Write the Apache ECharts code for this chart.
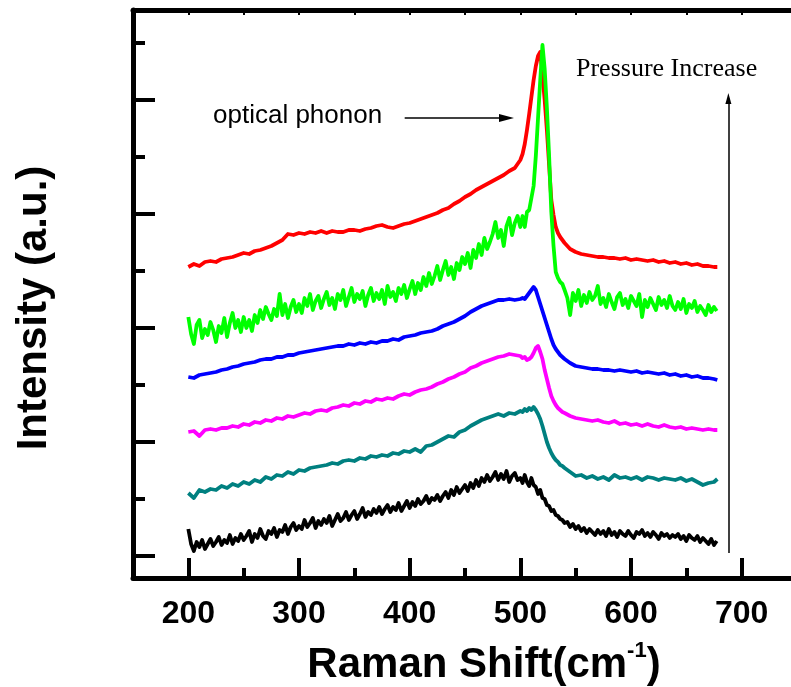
<!DOCTYPE html>
<html>
<head>
<meta charset="utf-8">
<script src="https://cdn.jsdelivr.net/npm/echarts@6/dist/echarts.min.js"></script>
<style>
  html, body { margin: 0; padding: 0; background: #fff; }
  #chart { width: 791px; height: 687px; }
</style>
</head>
<body>
<div id="chart"></div>
<script>
// Raman shift sampling (cm^-1) for the smoother spectra
const ramanShift = [
  200, 205, 210, 215, 220, 225, 230, 235, 240, 245,
  250, 255, 260, 265, 270, 275, 280, 285, 290, 295,
  300, 305, 310, 315, 320, 325, 330, 335, 340, 345,
  350, 355, 360, 365, 370, 375, 380, 385, 390, 395,
  400, 405, 410, 415, 420, 425, 430, 435, 440, 445,
  450, 455, 460, 465, 470, 475, 480, 485, 490, 495,
  500,
  502, 504, 506, 508, 510, 512, 514, 516, 518, 520,
  522, 524, 526, 528, 530, 532, 534, 536, 538, 540,
  545, 550, 555, 560, 565, 570, 575, 580, 585, 590,
  595, 600, 605, 610, 615, 620, 625, 630, 635, 640,
  645, 650, 655, 660, 665, 670, 675, 678
];

// Finer Raman shift sampling (cm^-1) for the two noisiest spectra
const fineShift = [
  200, 202.5, 205, 207.5, 210, 212.5, 215, 217.5, 220, 222.5,
  225, 227.5, 230, 232.5, 235, 237.5, 240, 242.5, 245, 247.5,
  250, 252.5, 255, 257.5, 260, 262.5, 265, 267.5, 270, 272.5,
  275, 277.5, 280, 282.5, 285, 287.5, 290, 292.5, 295, 297.5,
  300, 302.5, 305, 307.5, 310, 312.5, 315, 317.5, 320, 322.5,
  325, 327.5, 330, 332.5, 335, 337.5, 340, 342.5, 345, 347.5,
  350, 352.5, 355, 357.5, 360, 362.5, 365, 367.5, 370, 372.5,
  375, 377.5, 380, 382.5, 385, 387.5, 390, 392.5, 395, 397.5,
  400, 402.5, 405, 407.5, 410, 412.5, 415, 417.5, 420, 422.5,
  425, 427.5, 430, 432.5, 435, 437.5, 440, 442.5, 445, 447.5,
  450, 452.5, 455, 457.5, 460, 462.5, 465, 467.5, 470, 472.5,
  475, 477.5, 480, 482.5, 485, 487.5, 490, 492.5, 495, 497.5,
  500,
  502, 504, 506, 508, 510, 512, 514, 516, 518, 520,
  522, 524, 526, 528, 530, 532, 534, 536, 538, 540,
  542.5, 545, 547.5, 550, 552.5, 555, 557.5, 560, 562.5, 565,
  567.5, 570, 572.5, 575, 577.5, 580, 582.5, 585, 587.5, 590,
  592.5, 595, 597.5, 600, 602.5, 605, 607.5, 610, 612.5, 615,
  617.5, 620, 622.5, 625, 627.5, 630, 632.5, 635, 637.5, 640,
  642.5, 645, 647.5, 650, 652.5, 655, 657.5, 660, 662.5, 665,
  667.5, 670, 672.5, 675, 677.5
];

// Offset intensities (a.u.), lowest pressure first
const blackSpectrum = [
  27, 12, 5, 14, 9, 16, 7, 12, 17, 10,
  14, 19, 11, 16, 13, 21, 12, 18, 15, 22,
  16, 20, 25, 14, 22, 18, 27, 20, 17, 25,
  22, 28, 19, 26, 24, 31, 22, 29, 33, 26,
  30, 27, 36, 29, 33, 38, 28, 35, 31, 37,
  33, 40, 30, 36, 42, 35, 38, 44, 36, 41,
  45, 37, 42, 48, 39, 44, 41, 47, 43, 49,
  42, 47, 51, 44, 49, 46, 53, 45, 50, 55,
  48, 54, 50, 57, 52, 55, 60, 53, 58, 56,
  61, 55, 60, 64, 58, 66, 61, 69, 63, 67,
  71, 65, 73, 68, 76, 70, 78, 74, 81, 75,
  79, 84, 76, 82, 77, 85, 74, 80, 83, 76,
  78,
  73, 81, 74, 70, 78, 71, 69, 62, 66, 58,
  57, 51, 50, 45, 46, 41, 40, 37, 36, 33,
  34, 29, 32, 27, 30, 25, 28, 23, 27, 24,
  21, 26, 22, 25, 20, 27, 21, 24, 19, 25,
  22, 20, 25, 21, 18, 24, 22, 26, 20, 23,
  19, 24, 21, 17, 23, 20, 22, 18, 21, 19,
  22, 17, 20, 15, 21, 18, 16, 20, 14, 18,
  15, 12, 17, 11, 15
];
const tealSpectrum = [
  63, 58, 66, 64, 67, 66, 70, 68, 72, 70,
  74, 72, 76, 74, 79, 77, 81, 80, 84, 82,
  86, 85, 88, 89, 90, 91, 93, 92, 95, 96,
  95, 98, 97, 100, 99, 101, 100, 103, 102, 105,
  104, 107, 104, 110, 111, 114, 117, 120, 119, 124,
  126, 130, 133, 136, 138, 140, 142, 140, 143, 142,
  145,
  144, 147, 145, 148, 146, 149, 146, 142, 137, 130,
  122, 114, 108, 103, 99, 96, 94, 91, 90, 88,
  84, 80, 81, 78, 80, 77, 79, 76, 81, 78,
  79, 77, 79, 76, 79, 78, 76, 78, 77, 76,
  78, 75, 77, 74, 71, 73, 74, 77
];
const magentaSpectrum = [
  124, 125, 120, 126, 127, 126, 128, 128, 130, 129,
  132, 131, 134, 133, 136, 135, 138, 137, 140, 139,
  141, 143, 142, 145, 146, 145, 148, 149, 151, 150,
  153, 152, 155, 154, 157, 156, 158, 157, 160, 162,
  161, 164, 166, 167, 169, 172, 174, 177, 179, 182,
  184, 188, 190, 193, 195, 197, 199, 200, 202, 201,
  200,
  198, 199, 196, 197, 199, 203, 208, 210, 204, 197,
  186, 177, 168, 160, 155, 151, 148, 146, 144, 143,
  140, 138, 137, 136, 135, 136, 134, 133, 135, 132,
  133, 131, 132, 130, 132, 130, 129, 131, 129, 128,
  129, 127, 128, 127, 126, 127, 126, 126
];
const blueSpectrum = [
  179, 178, 181, 182, 183, 184, 186, 187, 189, 190,
  192, 193, 194, 196, 197, 197, 199, 199, 201, 201,
  203, 204, 205, 206, 207, 208, 209, 210, 210, 212,
  211, 213, 212, 214, 213, 215, 215, 217, 216, 219,
  220, 221, 223, 224, 225, 227, 230, 232, 234, 237,
  240, 244, 247, 250, 252, 254, 256, 256, 257, 256,
  257,
  258, 257, 260, 263, 266, 269, 266, 259, 252, 245,
  238, 231, 224, 217, 211, 207, 204, 201, 199, 197,
  193, 190, 189, 188, 187, 187, 186, 186, 185, 186,
  185, 184, 185, 183, 184, 183, 182, 183, 181, 182,
  180, 181, 179, 180, 178, 178, 177, 176
];
const greenSpectrum = [
  239, 222, 212, 231, 236, 218, 227, 221, 234, 226,
  214, 230, 223, 238, 219, 233, 243, 228, 236, 224,
  239, 228, 236, 225, 241, 233, 246, 237, 249, 242,
  236, 247, 240, 262, 241, 252, 238, 249, 256, 244,
  252, 243, 258, 250, 262, 246, 255, 260, 248, 257,
  264, 251, 258, 247, 262, 256, 266, 250, 259, 268,
  254, 262, 257, 265, 250, 261, 268, 255, 263, 257,
  266, 252, 270, 259, 264, 255, 268, 262, 271, 258,
  267, 275, 262, 273, 266, 279, 270, 283, 272, 280,
  290, 276, 286, 295, 281, 289, 277, 293, 286, 299,
  292, 303, 288, 306, 298, 312, 301, 318, 307, 314,
  322, 334, 318, 326, 310, 330, 338, 321, 333, 340,
  329,
  340, 329, 344, 346, 358, 370, 400, 438, 476, 511,
  487, 448, 400, 344, 310, 284, 278, 274, 272, 266,
  258, 241, 263, 255, 266, 250, 261, 253, 264, 256,
  260, 270, 252, 258, 249, 262, 254, 247, 259, 263,
  251, 257, 248, 260, 255, 250, 262, 239, 256, 249,
  258, 252, 246, 259, 251, 256, 248, 260, 250, 246,
  254, 247, 257, 243, 252, 248, 255, 244, 250, 246,
  241, 251, 244, 249, 245
];
const redSpectrum = [
  289, 292, 290, 294, 295, 294, 297, 298, 299, 301,
  303, 302, 305, 306, 308, 310, 313, 316, 322, 321,
  323, 322, 324, 323, 325, 323, 325, 324, 324, 326,
  326, 325, 327, 328, 330, 331, 329, 328, 330, 332,
  333, 335, 337, 339, 341, 343, 346, 348, 352, 355,
  359, 362, 366, 369, 372, 375, 378, 381, 385, 388,
  396,
  402, 412, 426, 442, 459, 476, 490, 500, 504, 481,
  456, 426, 391, 356, 341, 329, 323, 319, 316, 313,
  307, 304, 302, 301, 300, 299, 299, 298, 298, 297,
  298, 296, 297, 296, 295, 296, 294, 295, 293, 294,
  292, 293, 291, 292, 290, 290, 289, 289
];

// Axis ticks
const xLabelTicks = [200, 300, 400, 500, 600, 700];
const xMinorTicks = [250, 350, 450, 550, 650, 750];
const xTopTicks = [200, 250, 300, 350, 400, 450, 500, 550, 600, 650, 700];
const yMajorTicks = [0, 114, 228, 342, 456];
const yMinorTicks = [57, 171, 285, 399, 513];

const X_MIN = 150, X_MAX = 750;
const Y_MIN = -22, Y_MAX = 546;

const SANS = '"Liberation Sans", Arial, Helvetica, sans-serif';
const SERIF = '"Liberation Serif", "Times New Roman", Times, serif';

function pairs(xs, values) {
  return xs.map((x, i) => [x, values[i]]);
}

const spectra = [
  { name: 'black', color: '#000000', xs: fineShift, values: blackSpectrum },
  { name: 'teal', color: '#008080', xs: ramanShift, values: tealSpectrum },
  { name: 'magenta', color: '#ff00ff', xs: ramanShift, values: magentaSpectrum },
  { name: 'blue', color: '#0000ff', xs: ramanShift, values: blueSpectrum },
  { name: 'red', color: '#ff0000', xs: ramanShift, values: redSpectrum },
  { name: 'green', color: '#00ff00', xs: fineShift, values: greenSpectrum }
];

const axisLineStyle = { color: '#000', width: 5 };

const series = spectra.map(s => ({
  name: s.name,
  type: 'line',
  xAxisIndex: 0,
  yAxisIndex: 0,
  data: pairs(s.xs, s.values),
  showSymbol: false,
  symbol: 'none',
  lineStyle: { color: s.color, width: 3.8, join: 'round' },
  itemStyle: { color: s.color },
  animation: false,
  silent: true
}));

// Annotation arrows, placed in data coordinates
series[0].markLine = {
  silent: true,
  animation: false,
  symbol: ['none', 'triangle'],
  label: { show: false },
  lineStyle: { color: '#000', width: 1.5, type: 'solid' },
  emphasis: { disabled: true },
  data: [
    [ { coord: [395.5, 438] }, { coord: [487.5, 438], symbolSize: [8, 15] } ],
    [ { coord: [688, 3] }, { coord: [688, 457.5], symbolSize: [6, 11] } ]
  ]
};

const chart = echarts.init(document.getElementById('chart'), null, { renderer: 'canvas' });

const gridBox = { left: 133, right: -6, top: 10, bottom: 109, containLabel: false, outerBoundsMode: 'none' };

chart.setOption({
  backgroundColor: '#ffffff',
  animation: false,
  grid: [ Object.assign({}, gridBox), Object.assign({}, gridBox) ],
  xAxis: [
    {
      type: 'value', gridIndex: 0, position: 'bottom',
      min: X_MIN, max: X_MAX,
      axisLine: { show: true, onZero: false, lineStyle: axisLineStyle },
      axisTick: { show: true, inside: true, length: 20, customValues: xLabelTicks,
                  lineStyle: { color: '#000', width: 4 } },
      axisLabel: { show: true, customValues: xLabelTicks, margin: 20,
                   fontSize: 32, fontWeight: 'bold', color: '#000', fontFamily: SANS },
      splitLine: { show: false },
      name: 'Raman Shift(cm{sup|-1})',
      nameLocation: 'middle',
      nameGap: 62,
      nameTextStyle: {
        fontSize: 42, fontWeight: 'bold', color: '#000', fontFamily: SANS,
        lineHeight: 50, padding: [0, 0, 0, 38],
        rich: {
          sup: { fontSize: 22, fontWeight: 'bold', color: '#000', fontFamily: SANS,
                 lineHeight: 20, verticalAlign: 'top' }
        }
      }
    },
    {
      type: 'value', gridIndex: 0, position: 'top',
      min: X_MIN, max: X_MAX,
      axisLine: { show: true, onZero: false, lineStyle: axisLineStyle },
      axisTick: { show: true, inside: true, length: 5, customValues: xTopTicks,
                  lineStyle: { color: '#000', width: 2 } },
      axisLabel: { show: false },
      splitLine: { show: false }
    },
    {
      type: 'value', gridIndex: 1, position: 'bottom',
      min: X_MIN, max: X_MAX,
      axisLine: { show: false, onZero: false },
      axisTick: { show: true, inside: true, length: 10, customValues: xMinorTicks,
                  lineStyle: { color: '#000', width: 4 } },
      axisLabel: { show: false },
      splitLine: { show: false }
    }
  ],
  yAxis: [
    {
      type: 'value', gridIndex: 0, position: 'left',
      min: Y_MIN, max: Y_MAX,
      axisLine: { show: true, onZero: false, lineStyle: axisLineStyle },
      axisTick: { show: true, inside: true, length: 22, customValues: yMajorTicks,
                  lineStyle: { color: '#000', width: 4 } },
      axisLabel: { show: false },
      splitLine: { show: false },
      name: 'Intensity (a.u.)',
      nameLocation: 'middle',
      nameRotate: 90,
      nameGap: 78,
      nameTextStyle: {
        fontSize: 42, fontWeight: 'bold', color: '#000', fontFamily: SANS,
        padding: [0, 28, 0, 0]
      }
    },
    {
      type: 'value', gridIndex: 1, position: 'left',
      min: Y_MIN, max: Y_MAX,
      axisLine: { show: false, onZero: false },
      axisTick: { show: true, inside: true, length: 12, customValues: yMinorTicks,
                  lineStyle: { color: '#000', width: 4 } },
      axisLabel: { show: false },
      splitLine: { show: false }
    }
  ],
  graphic: [
    {
      type: 'text', left: 213, top: 103, silent: true,
      style: { text: 'optical phonon', fill: '#000', font: '26px ' + SANS }
    },
    {
      type: 'text', left: 576, top: 56, silent: true,
      style: { text: 'Pressure Increase', fill: '#000', font: '26px ' + SERIF }
    }
  ],
  series: series
});
</script>
</body>
</html>
